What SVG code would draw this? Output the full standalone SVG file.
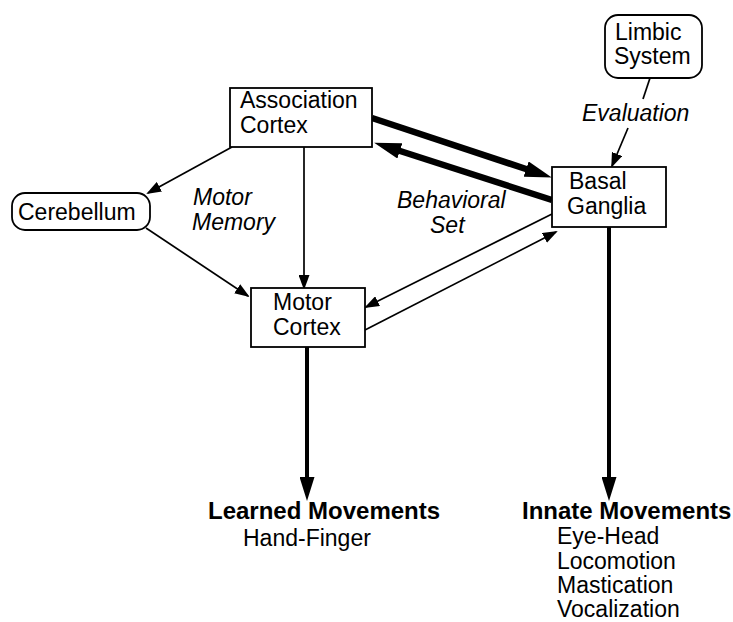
<svg xmlns="http://www.w3.org/2000/svg" width="733" height="622" viewBox="0 0 733 622">
<style>
text{font-family:"Liberation Sans",Arial,Helvetica,sans-serif;font-size:23px;fill:#000}
.it{font-style:italic}
.b{font-weight:bold;font-size:24px}
.box{fill:#fff;stroke:#000;stroke-width:1.8}
.thin{stroke:#000;stroke-width:1.7;fill:none}
.thick{stroke:#000;stroke-width:6.5;fill:none}
.vthick{stroke:#000;stroke-width:4;fill:none}
</style>
<defs>
<marker id="ah" markerUnits="userSpaceOnUse" markerWidth="15" markerHeight="11" refX="13" refY="5.5" orient="auto"><path d="M0,0 L15,5.5 L0,11 z" fill="#000"/></marker>
<marker id="ahT" markerUnits="userSpaceOnUse" markerWidth="27" markerHeight="16" refX="3" refY="8" orient="auto"><path d="M0,0 L27,8 L0,16 z" fill="#000"/></marker>
<marker id="ahV" markerUnits="userSpaceOnUse" markerWidth="24" markerHeight="15" refX="2" refY="7.5" orient="auto"><path d="M0,0 L24,7.5 L0,15 z" fill="#000"/></marker>
</defs>
<g id="connectors">
<line class="thick" x1="372" y1="118" x2="529" y2="170" marker-end="url(#ahT)"/>
<line class="thick" x1="552" y1="200" x2="397" y2="150" marker-end="url(#ahT)"/>
<line class="thin" x1="552" y1="214" x2="366" y2="307" marker-end="url(#ah)"/>
<line class="thin" x1="365" y1="330" x2="556" y2="232" marker-end="url(#ah)"/>
<line class="thin" x1="232" y1="147" x2="148" y2="193" marker-end="url(#ah)"/>
<line class="thin" x1="146" y1="228" x2="248" y2="296" marker-end="url(#ah)"/>
<line class="thin" x1="304" y1="147" x2="304" y2="288" marker-end="url(#ah)"/>
<line class="thin" x1="650" y1="78" x2="643" y2="99"/>
<line class="thin" x1="628" y1="128" x2="612" y2="166" marker-end="url(#ah)"/>
<line class="vthick" x1="307" y1="347" x2="307" y2="479" marker-end="url(#ahV)"/>
<line class="vthick" x1="609" y1="227" x2="609" y2="479" marker-end="url(#ahV)"/>
</g>
<g id="association-cortex">
<rect class="box" x="230" y="88" width="142" height="59"/>
<text x="240" y="108">Association</text>
<text x="240" y="133">Cortex</text>
</g>
<g id="basal-ganglia">
<rect class="box" x="552" y="167" width="114" height="60"/>
<text x="569" y="189">Basal</text>
<text x="567" y="214">Ganglia</text>
</g>
<g id="motor-cortex">
<rect class="box" x="251" y="288" width="114" height="59"/>
<text x="273" y="310">Motor</text>
<text x="273" y="335">Cortex</text>
</g>
<g id="cerebellum">
<rect class="box" x="12" y="193" width="138" height="37" rx="13"/>
<text x="18" y="220">Cerebellum</text>
</g>
<g id="limbic-system">
<rect class="box" x="605" y="15" width="97" height="63" rx="13"/>
<text x="615" y="40">Limbic</text>
<text x="614" y="64">System</text>
</g>
<g id="labels">
<text class="it" x="582" y="121">Evaluation</text>
<text class="it" x="193" y="205">Motor</text>
<text class="it" x="192" y="230">Memory</text>
<text class="it" x="397" y="208">Behavioral</text>
<text class="it" x="430" y="233">Set</text>
</g>
<g id="learned-movements">
<text class="b" x="208" y="519">Learned Movements</text>
<text x="243" y="546">Hand-Finger</text>
</g>
<g id="innate-movements">
<text class="b" x="522" y="519">Innate Movements</text>
<text x="557" y="544">Eye-Head</text>
<text x="557" y="569">Locomotion</text>
<text x="557" y="593">Mastication</text>
<text x="557" y="617">Vocalization</text>
</g>
</svg>
